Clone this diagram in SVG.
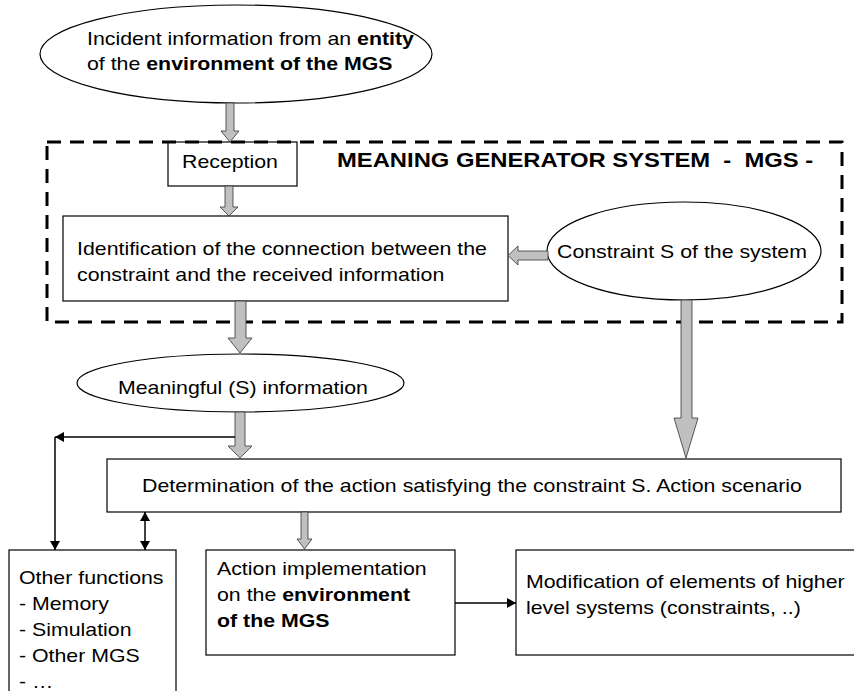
<svg xmlns="http://www.w3.org/2000/svg" width="854" height="691" viewBox="0 0 854 691">
  <style>
    text { font-family: "Liberation Sans", Arial, sans-serif; font-size: 18px; fill: #000; }
    .b { font-weight: bold; }
    .title { font-weight: bold; font-size: 20px; }
    .box { fill: #fff; stroke: #000; stroke-width: 1.2; }
    .blk { fill: #c0c0c0; stroke: #333; stroke-width: 0.8; stroke-linejoin: miter; }
    .ln { fill: none; stroke: #000; stroke-width: 1.5; }
    .dash { fill: none; stroke: #000; stroke-width: 3; stroke-dasharray: 14 9; }
  </style>
  <defs>
    <marker id="ah" viewBox="0 0 9 10" refX="9" refY="5" markerWidth="9" markerHeight="10" orient="auto-start-reverse" markerUnits="userSpaceOnUse">
      <path d="M0,0 L9,5 L0,10 Z" fill="#000"/>
    </marker>
  </defs>

  <rect x="0" y="0" width="854" height="691" fill="#fff"/>

  <!-- external source of information -->
  <g id="n-incident">
    <ellipse cx="236" cy="54" rx="196" ry="49" class="box"/>
    <text transform="translate(87 45) scale(1.185 1)">Incident information from an <tspan class="b">entity</tspan><tspan x="0" dy="25">of the </tspan><tspan class="b">environment of the MGS</tspan></text>
  </g>

  <g id="n-reception">
    <rect x="168" y="142" width="129" height="44" class="box"/>
    <text transform="translate(182 168) scale(1.185 1)">Reception</text>
  </g>

  <!-- boundary of the meaning generator system -->
  <g id="n-mgs">
    <rect x="47" y="142" width="795" height="180" class="dash"/>
    <text class="title" xml:space="preserve" transform="translate(337 167) scale(1.19 1)">MEANING GENERATOR SYSTEM  -  MGS -</text>
  </g>

  <g id="n-identification">
    <rect x="63" y="216" width="445" height="85" class="box"/>
    <text transform="translate(77 255) scale(1.185 1)">Identification of the connection between the<tspan x="0" dy="26">constraint and the received information</tspan></text>
  </g>

  <g id="n-constraint">
    <ellipse cx="684" cy="251" rx="137" ry="49" class="box"/>
    <text transform="translate(557 258) scale(1.185 1)">Constraint S of the system</text>
  </g>

  <g id="n-meaningful">
    <ellipse cx="240.5" cy="383" rx="163.5" ry="29" class="box"/>
    <text transform="translate(118 394) scale(1.185 1)">Meaningful (S) information</text>
  </g>

  <g id="n-determination">
    <rect x="107" y="459" width="734" height="53" class="box"/>
    <text transform="translate(142 492) scale(1.185 1)">Determination of the action satisfying the constraint S. Action scenario</text>
  </g>

  <g id="n-other">
    <rect x="9" y="550" width="167" height="160" class="box"/>
    <text transform="translate(19 584) scale(1.185 1)">Other functions<tspan x="0" dy="26">- Memory</tspan><tspan x="0" dy="26">- Simulation</tspan><tspan x="0" dy="26">- Other MGS</tspan><tspan x="0" dy="26">- …</tspan></text>
  </g>

  <g id="n-action">
    <rect x="206" y="550" width="249" height="105" class="box"/>
    <text transform="translate(217 575) scale(1.185 1)">Action implementation<tspan x="0" dy="26">on the </tspan><tspan class="b">environment</tspan><tspan x="0" dy="26" class="b">of the MGS</tspan></text>
  </g>

  <g id="n-modification">
    <rect x="516" y="550" width="350" height="105" class="box"/>
    <text transform="translate(526 588) scale(1.185 1)">Modification of elements of higher<tspan x="0" dy="26">level systems (constraints, ..)</tspan></text>
  </g>

  <!-- connectors -->
  <g id="connectors">
    <!-- block arrows -->
    <polygon class="blk" points="226,103 234,103 234,131 239,131 230,142 221,131 226,131"/>
    <polygon class="blk" points="225,186 233,186 233,207 238,207 229,216 220,207 225,207"/>
    <polygon class="blk" points="235,301 246,301 246,338 252,338 240,353 228,338 235,338"/>
    <polygon class="blk" points="235,412 245,412 245,446 252,446 240,458 228,446 235,446"/>
    <polygon class="blk" points="681,300 692,300 692,418 698,418 686,458 674,418 681,418"/>
    <polygon class="blk" points="548,251 518,251 518,246 508,255.5 518,265 518,260 548,260"/>
    <polygon class="blk" points="301,512 308,512 308,539 312,539 304.5,549 297,539 301,539"/>

    <!-- thin arrows -->
    <path class="ln" d="M235,437 H55" marker-end="url(#ah)"/>
    <path class="ln" d="M55,437 V550" marker-end="url(#ah)"/>
    <path class="ln" d="M145,512 V550" marker-start="url(#ah)" marker-end="url(#ah)"/>
    <path class="ln" d="M455,603 H516" marker-end="url(#ah)"/>
  </g>
</svg>
